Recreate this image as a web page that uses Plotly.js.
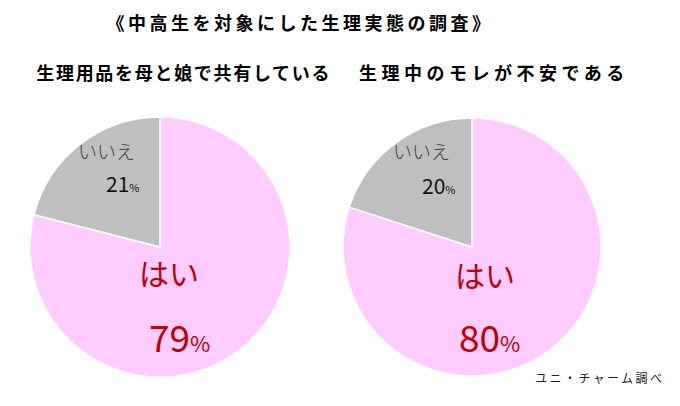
<!DOCTYPE html>
<html>
<head>
<meta charset="utf-8">
<script src="https://cdn.plot.ly/plotly-3.0.1.min.js"></script>
<style>
  html, body { margin: 0; padding: 0; background: #fff; }
  #chart { width: 680px; height: 406px; }
  .annotation[data-index="0"] .annotation-text { letter-spacing: 3.5px; }
  .annotation[data-index="1"] .annotation-text { letter-spacing: 1.7px; }
  .annotation[data-index="2"] .annotation-text { letter-spacing: 4.5px; }
  .annotation[data-index="3"] .annotation-text { letter-spacing: 2.4px; }
</style>
</head>
<body>
<div id="chart"></div>
<script>
const mainTitle = '《中高生を対象にした生理実態の調査》';
const subtitles = ['生理用品を母と娘で共有している', '生理中のモレが不安である'];
const labels = ['はい', 'いいえ'];
const valuesLeft = [79, 21];
const valuesRight = [80, 20];
const source = 'ユニ・チャーム調べ';

const JP = '"Noto Sans CJK JP", "Noto Sans", sans-serif';
const pink = '#FFCCFF';
const gray = '#BFBFBF';

function pieTrace(values, domainX) {
  return {
    type: 'pie',
    labels: labels,
    values: values,
    sort: false,
    direction: 'clockwise',
    rotation: 0,
    marker: { colors: [pink, gray], line: { color: '#ffffff', width: 1.5 } },
    textinfo: 'none',
    hoverinfo: 'none',
    showlegend: false,
    domain: { x: domainX, y: [29 / 406, 289 / 406] }
  };
}

const data = [
  pieTrace(valuesLeft, [30 / 680, 290 / 680]),
  pieTrace(valuesRight, [343 / 680, 601 / 680])
];

function ann(text, x, y, size, color, weight) {
  return {
    text: text, x: x, y: y, xref: 'paper', yref: 'paper',
    xanchor: 'center', yanchor: 'middle', showarrow: false,
    font: { family: JP, size: size, color: color, weight: weight || 400 }
  };
}

function pct(v, big, small) {
  return v + '<span style="font-size:' + small + 'px">%</span>';
}

const annotations = [
  ann(mainTitle, 300 / 680, 1 - 22 / 406, 18, '#000', 700),
  ann(subtitles[0], 183 / 680, 1 - 72 / 406, 18, '#000', 700),
  ann(subtitles[1], 494 / 680, 1 - 72 / 406, 18, '#000', 700),
  ann(source, 600 / 680, 1 - 377 / 406, 12, '#222', 400),
  // left pie labels
  ann(labels[1], 106 / 680, 1 - 150 / 406, 19, '#404040', 300),
  ann(pct(valuesLeft[1], 21, 11), 122 / 680, 1 - 183 / 406, 21, '#111', 400),
  ann(labels[0], 169 / 680, 1 - 272 / 406, 30, '#C00000', 400),
  ann(pct(valuesLeft[0], 37, 22), 179 / 680, 1 - 336 / 406, 37, '#C00000', 400),
  // right pie labels
  ann(labels[1], 421 / 680, 1 - 151 / 406, 19, '#404040', 300),
  ann(pct(valuesRight[1], 21, 11), 438 / 680, 1 - 185 / 406, 21, '#111', 400),
  ann(labels[0], 485 / 680, 1 - 274 / 406, 30, '#C00000', 400),
  ann(pct(valuesRight[0], 37, 22), 489 / 680, 1 - 336 / 406, 37, '#C00000', 400)
];

const layout = {
  width: 680, height: 406,
  margin: { l: 0, r: 0, t: 0, b: 0 },
  paper_bgcolor: '#ffffff',
  plot_bgcolor: '#ffffff',
  showlegend: false,
  annotations: annotations
};

Plotly.newPlot('chart', data, layout, { displayModeBar: false, staticPlot: true });
</script>
</body>
</html>
